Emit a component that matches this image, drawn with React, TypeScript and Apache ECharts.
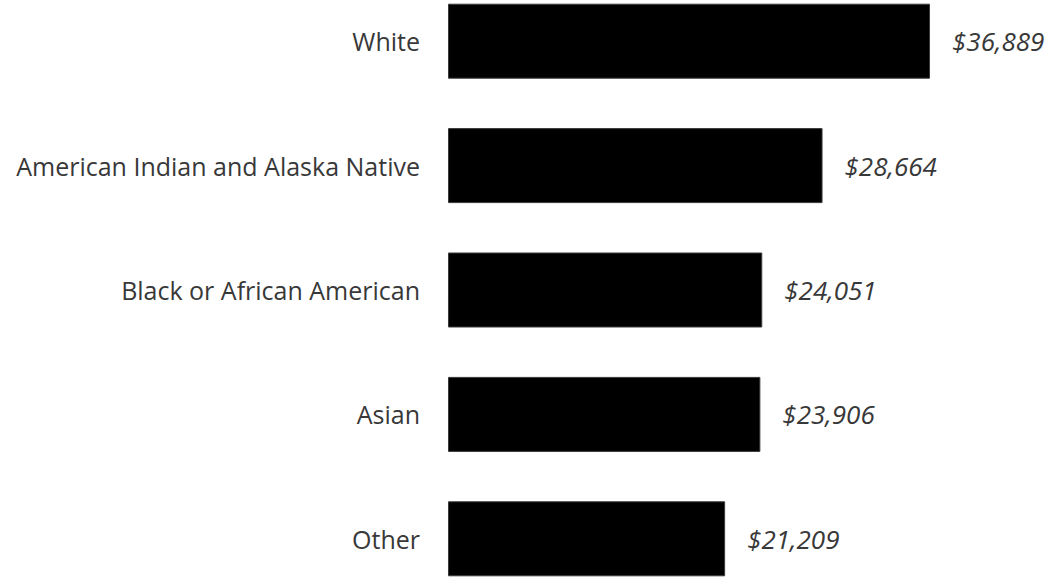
import React, { useEffect, useRef } from "react";
import * as echarts from "echarts";

const categories = [
  "White",
  "American Indian and Alaska Native",
  "Black or African American",
  "Asian",
  "Other",
];
const values = [36889, 28664, 24051, 23906, 21209];

export default function App() {
  const ref = useRef<HTMLDivElement>(null);
  useEffect(() => {
    if (!ref.current) return;
    const chart = echarts.init(ref.current, null, { renderer: "svg" });
    chart.setOption({
      animation: false,
      backgroundColor: "#ffffff",
      grid: { left: 448, top: 10, height: 622, width: 588, containLabel: false },
      xAxis: {
        type: "value",
        min: 0,
        max: 45000,
        show: false,
      },
      yAxis: {
        type: "category",
        data: categories,
        inverse: true,
        axisLine: { show: false },
        axisTick: { show: false },
        splitLine: { show: false },
        axisLabel: {
          margin: 28,
          color: "#383838",
          fontSize: 25,
          fontFamily: "Open Sans",
        },
      },
      series: [
        {
          type: "bar",
          data: values,
          barWidth: 75,
          itemStyle: { color: "#000000", borderColor: "#3a3a3a", borderWidth: 1 },
          label: {
            show: true,
            position: "right",
            distance: 22,
            color: "#383838",
            fontSize: 26,
            fontStyle: "italic",
            fontFamily: "Open Sans",
            formatter: (p: any) => "$" + p.value.toLocaleString("en-US"),
          },
        },
      ],
    });
    return () => chart.dispose();
  }, []);
  return (
    <div
      ref={ref}
      style={{ position: "fixed", left: 0, top: -31, width: 1057, height: 660 }}
    />
  );
}
